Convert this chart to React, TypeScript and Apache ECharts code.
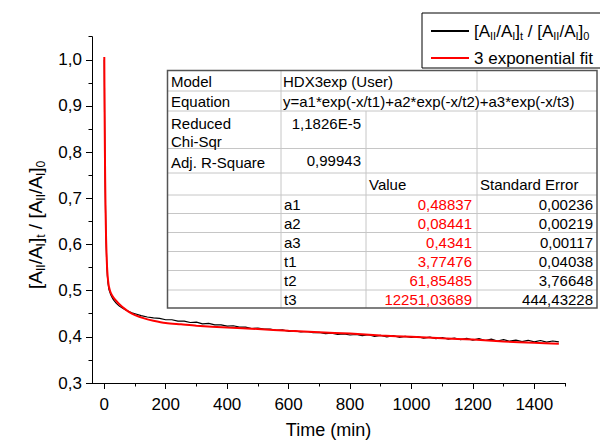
import React, { useEffect, useRef } from "react";
import * as echarts from "echarts";

const FONT = "'Liberation Sans', Arial, Helvetica, sans-serif";

// measured data: time (min) and normalised ratio
const dataTime = [
  0, 1, 2, 3, 4, 5, 6, 8, 10, 12, 15, 20, 25, 30, 40, 50, 60, 70, 80, 90, 100,
  120, 140, 160, 180, 200, 220, 240, 260, 280, 300, 320, 340, 360, 380, 400,
  420, 440, 460, 480, 500, 520, 540, 560, 580, 600, 620, 640, 660, 680, 700,
  720, 740, 760, 780, 800, 820, 840, 860, 880, 900, 920, 940, 960, 980, 1000,
  1020, 1040, 1060, 1080, 1100, 1120, 1140, 1160, 1180, 1200, 1220, 1240, 1260,
  1280, 1300, 1320, 1340, 1360, 1380, 1400, 1420, 1440, 1460, 1480,
];
const dataRatio = [
  1.0, 0.88, 0.79, 0.725, 0.675, 0.635, 0.603, 0.56, 0.533, 0.517, 0.503, 0.493,
  0.486, 0.48, 0.472, 0.466, 0.462, 0.458, 0.455, 0.452, 0.45,
  0.446, 0.443, 0.441, 0.44, 0.437, 0.437, 0.434, 0.434, 0.431, 0.432, 0.428,
  0.429, 0.426, 0.426, 0.423, 0.424, 0.421, 0.421, 0.418, 0.419, 0.4165, 0.417,
  0.414, 0.415, 0.412, 0.413, 0.4105, 0.4115, 0.409, 0.4095, 0.407, 0.408,
  0.4055, 0.4065, 0.404, 0.405, 0.4025, 0.4045, 0.401, 0.403, 0.4, 0.4025,
  0.399, 0.401, 0.3985, 0.4005, 0.397, 0.3995, 0.396, 0.3985, 0.395, 0.3975,
  0.394, 0.3965, 0.393, 0.396, 0.392, 0.395, 0.391, 0.394, 0.3905, 0.393,
  0.3895, 0.3925, 0.389, 0.392, 0.3885, 0.391, 0.389,
];

// 3 exponential fit curve
const fitTime = [
  0, 1, 2, 3, 4, 5, 6, 8, 10, 12, 15, 20, 25, 30, 40, 50, 60, 80, 100, 130, 160,
  200, 250, 300, 400, 500, 600, 700, 800, 900, 1000, 1100, 1200, 1300, 1400, 1480,
];
const fitRatio = [
  1.006, 0.892, 0.803, 0.735, 0.682, 0.642, 0.61, 0.567, 0.54, 0.524, 0.509,
  0.497, 0.49, 0.485, 0.477, 0.47, 0.464, 0.454, 0.447, 0.44, 0.435, 0.43,
  0.427, 0.424, 0.42, 0.417, 0.413, 0.41, 0.407, 0.403, 0.4, 0.397, 0.394,
  0.39, 0.387, 0.385,
];

const xMajorTicks = [0, 200, 400, 600, 800, 1000, 1200, 1400];
const xMinorTicks = [100, 300, 500, 700, 900, 1100, 1300, 1500];
const yMajorTicks = [0.3, 0.4, 0.5, 0.6, 0.7, 0.8, 0.9, 1.0];
const yMinorTicks = [0.35, 0.45, 0.55, 0.65, 0.75, 0.85, 0.95, 1.05];

// fit report table
const infoLabels = ["Model", "Equation", "Reduced", "Adj. R-Square"];
const modelName = "HDX3exp (User)";
const equationText = "y=a1*exp(-x/t1)+a2*exp(-x/t2)+a3*exp(-x/t3)";
const redChiSqr = "1,1826E-5";
const adjR2 = "0,99943";
const paramNames = ["a1", "a2", "a3", "t1", "t2", "t3"];
const paramValues = ["0,48837", "0,08441", "0,4341", "3,77476", "61,85485", "12251,03689"];
const paramErrors = ["0,00236", "0,00219", "0,00117", "0,04038", "3,76648", "444,43228"];

const DATA_NAME = "data";
const FIT_NAME = "3 exponential fit";

const ratioRich =
  "{n|[A}{s|II}{n|/A}{s|I}{n|]}{s|t}{n| / [A}{s|II}{n|/A}{s|I}{n|]}{s|0}";

function richStyles(size: number, sub: number, lh: number) {
  return {
    n: { fontSize: size, fontFamily: FONT, color: "#000", lineHeight: lh },
    s: {
      fontSize: sub,
      fontFamily: FONT,
      color: "#000",
      lineHeight: sub,
      verticalAlign: "bottom",
    },
  };
}

function buildTable(): any[] {
  const els: any[] = [];
  const L = 167.5, R = 597, T = 70.5, B = 308;
  const cA = 281, cB = 366, cC = 477;
  const light = "#c6c6c6";
  const hl = (y: number, x1 = L, x2 = R) =>
    els.push({ type: "line", shape: { x1, y1: y, x2, y2: y }, style: { stroke: light, lineWidth: 1 }, z: 10 });
  const vl = (x: number, y1: number, y2: number) =>
    els.push({ type: "line", shape: { x1: x, y1, x2: x, y2 }, style: { stroke: light, lineWidth: 1 }, z: 10 });
  els.push({
    type: "rect",
    shape: { x: L, y: T, width: R - L, height: B - T },
    style: { fill: "#fff", stroke: "none" },
    z: 9,
  });
  const rows = [91, 111, 148.5, 173, 195, 213.5, 232.5, 251.5, 270.5, 290];
  rows.forEach((y) => hl(y));
  vl(cA, T, B);
  vl(cB, 111, B);
  vl(cC, T, 91);
  vl(cC, 111, B);
  els.push({
    type: "rect",
    shape: { x: L, y: T, width: R - L, height: B - T },
    style: { fill: "none", stroke: "#555", lineWidth: 1.5 },
    z: 12,
  });
  const txt = (text: string, x: number, y: number, align: string, color = "#000") =>
    els.push({
      type: "text",
      x,
      y,
      z: 13,
      style: {
        text,
        fill: color,
        font: `15px ${FONT}`,
        textAlign: align,
        align,
        textVerticalAlign: "middle",
        verticalAlign: "middle",
      },
    });
  txt(infoLabels[0], 171, 81, "left");
  txt(modelName, 283, 81, "left");
  txt(infoLabels[1], 171, 101.5, "left");
  txt(equationText, 283, 101.5, "left");
  txt(infoLabels[2], 171, 123.5, "left");
  txt("Chi-Sqr", 171, 141, "left");
  txt(redChiSqr, 361, 123, "right");
  txt(infoLabels[3], 171, 162, "left");
  txt(adjR2, 361, 160, "right");
  txt("Value", 369, 184, "left");
  txt("Standard Error", 480, 184, "left");
  const centers = [204, 223, 242, 261, 280, 299];
  paramNames.forEach((p, i) => {
    txt(p, 284, centers[i], "left");
    txt(paramValues[i], 472, centers[i], "right", "#ff0000");
    txt(paramErrors[i], 593, centers[i], "right");
  });
  return els;
}

export default function App() {
  const ref = useRef<HTMLDivElement>(null);
  useEffect(() => {
    if (!ref.current) return;
    const chart = echarts.init(ref.current, undefined, { renderer: "svg" });
    const dataPairs = dataTime.map((t, i) => [t, dataRatio[i]]);
    const fitPairs = fitTime.map((t, i) => [t, fitRatio[i]]);
    const axisLabelFont = { fontSize: 17, fontFamily: FONT, color: "#000" };
    const gridBox = () => ({
      left: 92,
      right: 35,
      top: 36.7,
      bottom: 58,
      containLabel: false,
      outerBoundsMode: "none",
    });
    const option: any = {
      animation: false,
      backgroundColor: "#fff",
      grid: [gridBox(), gridBox()],
      legend: {
        orient: "vertical",
        left: 422,
        top: 13,
        itemWidth: 38,
        itemHeight: 2,
        itemGap: 7,
        icon: "rect",
        padding: [8, 24, 0, 9],
        borderColor: "#000",
        borderWidth: 1,
        borderRadius: 0,
        data: [
          { name: DATA_NAME, itemStyle: { color: "#000" } },
          { name: FIT_NAME, itemStyle: { color: "#ff0000" } },
        ],
        formatter: (name: string) => (name === DATA_NAME ? ratioRich : `{n|${name}}`),
        textStyle: {
          fontSize: 17,
          fontFamily: FONT,
          color: "#000",
          lineHeight: 20,
          rich: richStyles(17, 11, 20),
        },
      },
      xAxis: [
        {
          type: "value",
          gridIndex: 0,
          min: -40,
          max: 1500,
          position: "bottom",
          axisLine: { show: true, onZero: false, lineStyle: { color: "#000", width: 1 } },
          axisTick: { show: true, customValues: xMajorTicks, length: 6, lineStyle: { color: "#000" } },
          axisLabel: {
            customValues: xMajorTicks,
            margin: 13,
            formatter: (v: number) => String(Math.round(v)),
            ...axisLabelFont,
          },
          splitLine: { show: false },
          name: "Time (min)",
          nameLocation: "middle",
          nameGap: 38,
          nameTextStyle: { fontSize: 18, fontFamily: FONT, color: "#000" },
        },
        {
          type: "value",
          gridIndex: 1,
          min: -40,
          max: 1500,
          position: "bottom",
          axisLine: { show: false, onZero: false },
          axisTick: { show: true, customValues: xMinorTicks, length: 3.5, lineStyle: { color: "#000" } },
          axisLabel: { show: false },
          splitLine: { show: false },
        },
      ],
      yAxis: [
        {
          type: "value",
          gridIndex: 0,
          min: 0.3,
          max: 1.05,
          position: "left",
          axisLine: { show: true, onZero: false, lineStyle: { color: "#000", width: 1 } },
          axisTick: { show: true, customValues: yMajorTicks, length: 6, lineStyle: { color: "#000" } },
          axisLabel: {
            customValues: yMajorTicks,
            margin: 10,
            formatter: (v: number) => v.toFixed(1).replace(".", ","),
            ...axisLabelFont,
          },
          splitLine: { show: false },
          name: ratioRich,
          nameLocation: "middle",
          nameGap: 40,
          nameRotate: 90,
          nameTextStyle: {
            fontSize: 19,
            fontFamily: FONT,
            color: "#000",
            padding: [0, 30, 0, 0],
            rich: richStyles(19, 12, 24),
          },
        },
        {
          type: "value",
          gridIndex: 1,
          min: 0.3,
          max: 1.05,
          position: "left",
          axisLine: { show: false, onZero: false },
          axisTick: { show: true, customValues: yMinorTicks, length: 3.5, lineStyle: { color: "#000" } },
          axisLabel: { show: false },
          splitLine: { show: false },
        },
      ],
      series: [
        {
          name: DATA_NAME,
          type: "line",
          data: dataPairs,
          symbol: "none",
          xAxisIndex: 0,
          yAxisIndex: 0,
          lineStyle: { color: "#000", width: 1.2 },
          itemStyle: { color: "#000" },
          z: 2,
        },
        {
          name: FIT_NAME,
          type: "line",
          data: fitPairs,
          symbol: "none",
          smooth: 0.3,
          xAxisIndex: 0,
          yAxisIndex: 0,
          lineStyle: { color: "#ff0000", width: 2 },
          itemStyle: { color: "#ff0000" },
          z: 3,
        },
      ],
      graphic: buildTable(),
    };
    chart.setOption(option);
    return () => chart.dispose();
  }, []);
  return (
    <div
      ref={ref}
      style={{ position: "fixed", left: 0, top: 0, width: 600, height: 441, background: "#fff" }}
    />
  );
}
